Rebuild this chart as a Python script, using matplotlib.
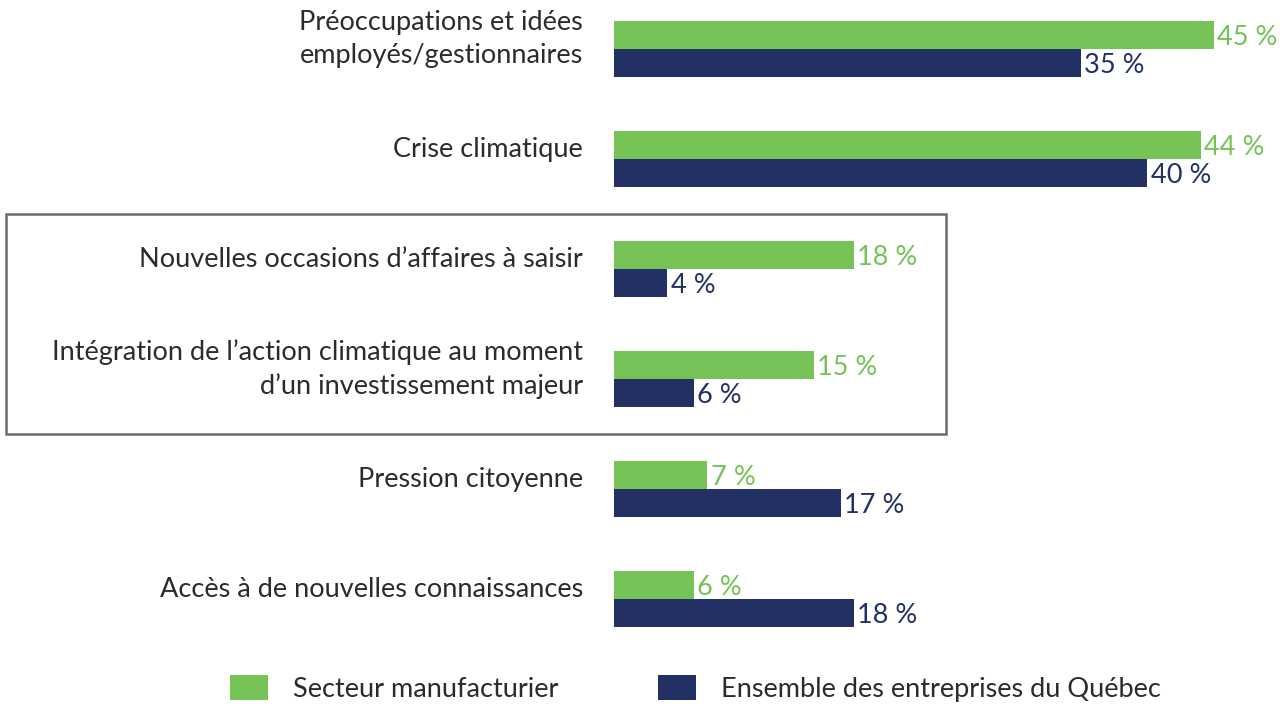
import matplotlib.pyplot as plt
import matplotlib.transforms as mtransforms
from matplotlib.patches import Rectangle, Patch

plt.rcParams['font.family'] = ['Lato', 'DejaVu Sans']

# Data
categories = [
    "Préoccupations et idées\nemployés/gestionnaires",
    "Crise climatique",
    "Nouvelles occasions d’affaires à saisir",
    "Intégration de l’action climatique au moment\nd’un investissement majeur",
    "Pression citoyenne",
    "Accès à de nouvelles connaissances",
]
manufacturier = [45, 44, 18, 15, 7, 6]
quebec = [35, 40, 4, 6, 17, 18]
series_names = ["Secteur manufacturier", "Ensemble des entreprises du Québec"]

green = '#75c257'
navy = '#233064'
text_color = '#2b2b2b'
fs = 19.5

W, H = 1283, 704
fig = plt.figure(figsize=(W / 100, H / 100), dpi=100)

# axes placed so that group centres land where the reference has them
left_px = 614
ax = fig.add_axes([left_px / W, 0, 1 - left_px / W, 1])
px_per_unit = 600 / 45
ax.set_xlim(0, (W - left_px) / px_per_unit)
ax.set_ylim((H - 49) / 110, -49 / 110)

bar_h = 28 / 110
ypos = list(range(len(categories)))

ax.barh([y - bar_h / 2 for y in ypos], manufacturier, height=bar_h, color=green, align='center')
ax.barh([y + bar_h / 2 for y in ypos], quebec, height=bar_h, color=navy, align='center')

for y, v in zip(ypos, manufacturier):
    ax.text(v + 0.25, y - bar_h / 2 + 0.02, f"{v} %", color=green, fontsize=fs,
            va='center', ha='left')
for y, v in zip(ypos, quebec):
    ax.text(v + 0.25, y + bar_h / 2 + 0.02, f"{v} %", color=navy, fontsize=fs,
            va='center', ha='left')

# category labels, right-aligned left of the bars, sitting slightly above centre
lab_trans = mtransforms.blended_transform_factory(fig.transFigure, ax.transData)
for y, lab in zip(ypos, categories):
    ax.text(583 / W, y - 0.09, lab, transform=lab_trans, ha='right', va='center',
            fontsize=fs, color=text_color, linespacing=1.38)

ax.set_yticks([])
ax.set_xticks([])
for s in ax.spines.values():
    s.set_visible(False)

# highlight box around groups 3 and 4
box = Rectangle((6 / W, 1.5), (946 - 6) / W, 2.0, transform=lab_trans,
                fill=False, edgecolor='#6b6b6b', linewidth=1.8, clip_on=False)
fig.add_artist(box)

handles = [Patch(facecolor=green, edgecolor='none'), Patch(facecolor=navy, edgecolor='none')]
fig.legend(handles, series_names, loc='lower left', bbox_to_anchor=(230 / W, 2 / H),
           ncol=2, frameon=False, fontsize=fs, handlelength=1.4, handleheight=1.05,
           handletextpad=0.93, columnspacing=3.67, labelcolor=text_color,
           borderaxespad=0, borderpad=0)

fig.savefig('out.png', dpi=100)
